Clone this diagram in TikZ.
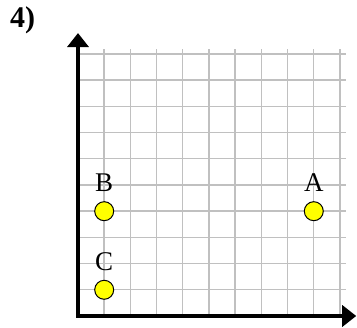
\documentclass[tikz,border=0pt]{standalone}
\usepackage{fontspec}
\setmainfont{Liberation Serif}
\usetikzlibrary{arrows.meta, positioning}
\definecolor{gridgray}{RGB}{192,192,192}
\definecolor{ptyellow}{RGB}{255,255,0}

\begin{document}
\begin{tikzpicture}[
        x=26.2pt, y=26.2pt,
        >={Triangle[length=14pt, width=21pt]},
        gridline/.style={gridgray, line width=1.4pt},
        axis/.style={<->, line width=4pt},
        pt/.style={circle, draw, line width=1pt, fill=ptyellow,
        minimum size=19pt, inner sep=0pt},
        ptlbl/.style={font=\fontsize{27}{32}\selectfont, inner sep=0pt}
      ]
      \useasboundingbox (-2.977,-0.458) rectangle (10.649,12.061);

      % Grid
      \foreach \i in {1,...,10} {
        \draw[gridline] (\i,0) -- (\i,10.2);
        \draw[gridline] (0,\i) -- (10.22,\i);
      }

      % Axes
      \coordinate (O) at (0,0);
      \coordinate (ytip) at (0,10.8);
      \coordinate (xtip) at (10.62,0);
      \draw[axis] (ytip) -- (O) -- (xtip);

      % Points
      \node[pt] (ptA) at (9,4) {};
      \node[pt] (ptB) at (1,4) {};
      \node[pt] (ptC) at (1,1) {};
      \node[ptlbl, above=9pt of ptA] {A};
      \node[ptlbl, above=9pt of ptB] {B};
      \node[ptlbl, above=9pt of ptC] {C};

      % Exercise number
      \node[font=\fontsize{30}{36}\selectfont\bfseries, inner sep=0pt,
      anchor=base west] (num) at (-2.595,11.01) {4)};
    \end{tikzpicture}
\end{document}
